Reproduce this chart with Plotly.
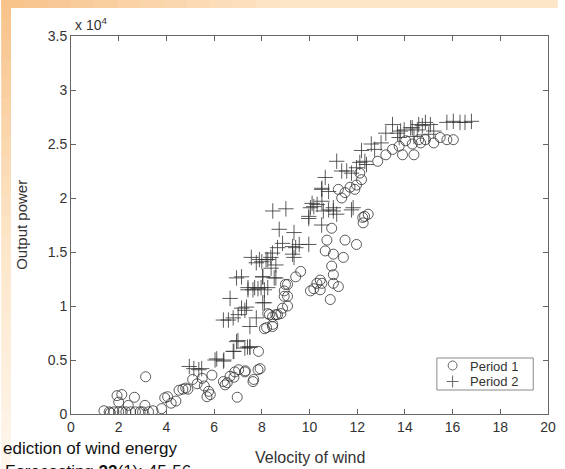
import plotly.graph_objects as go

# Period 1 (circles): wind velocity and output power (x 1e4)
p1_vel = [1.38, 1.6, 1.65, 1.8, 1.93, 2.0, 2.0, 2.13, 2.15, 2.3, 2.4, 2.5, 2.66, 2.7, 2.9, 3.0, 3.1, 3.13, 3.25, 3.44,
          3.8, 3.93, 4.05, 4.2, 4.4, 4.53, 4.69, 4.81, 4.9, 5.1, 5.29, 5.5, 5.59, 5.7, 5.77, 5.84, 5.91,
          6.39, 6.46, 6.55, 6.67, 6.83, 6.87, 6.97, 7.03, 7.29, 7.31, 7.63, 7.66, 7.84, 7.86, 7.93, 8.11, 8.2,
          8.25, 8.32, 8.45, 8.45, 8.46, 8.59, 8.66, 8.8, 8.87, 8.94, 8.94, 8.99, 9.08, 9.08, 9.08, 9.42, 9.63,
          10.04, 10.18, 10.31, 10.45, 10.45, 10.52, 10.66, 10.73, 10.87, 10.93, 10.93, 11.0, 11.0, 11.0, 11.21,
          11.42, 11.49, 11.97, 12.23, 12.31, 12.25, 11.21, 11.35, 11.49, 11.7, 11.9, 11.97, 12.11, 12.18, 12.46,
          12.86, 13.2, 13.48, 13.76, 13.9, 14.03, 14.31, 14.38, 14.58, 14.66, 14.86, 15.21, 15.48, 15.76, 16.03]
p1_pow = [0.03, 0.02, 0.01, 0.02, 0.17, 0.11, 0.02, 0.18, 0.02, 0.02, 0.08, 0.02, 0.155, 0.02, 0.02, 0.02, 0.08, 0.345, 0.02, 0.03,
          0.05, 0.15, 0.16, 0.1, 0.12, 0.22, 0.23, 0.24, 0.23, 0.32, 0.28, 0.33, 0.26, 0.16, 0.21, 0.18, 0.36,
          0.30, 0.27, 0.29, 0.35, 0.34, 0.39, 0.155, 0.41, 0.39, 0.40, 0.30, 0.32, 0.41, 0.58, 0.42, 0.79, 0.8,
          0.93, 0.92, 0.9, 0.81, 0.83, 0.92, 0.92, 0.93, 0.98, 1.09, 1.14, 1.2, 1.0, 1.09, 1.2, 1.27, 1.32,
          1.14, 1.16, 1.21, 1.15, 1.24, 1.21, 1.51, 1.61, 1.06, 1.37, 1.72, 1.29, 1.48, 1.21, 1.18,
          1.45, 1.61, 1.57, 1.82, 1.83, 1.77, 2.08, 2.0, 2.05, 2.1, 2.08, 2.12, 2.23, 2.17, 1.85,
          2.34, 2.4, 2.45, 2.48, 2.4, 2.53, 2.5, 2.4, 2.54, 2.51, 2.54, 2.51, 2.56, 2.54, 2.54]

# Period 2 (crosses)
p2_vel = [4.96, 5.15, 5.36, 5.48, 6.04, 6.11, 6.39, 6.41, 6.8, 6.83, 6.94, 7.0, 7.29, 7.4, 7.5, 7.5,
          6.39, 6.6, 6.67, 6.8, 7.01, 7.15, 7.29, 7.36, 7.42, 7.5, 7.63, 7.77, 7.84, 8.04, 8.11,
          6.94, 7.15, 7.42, 7.56, 7.7, 7.77, 7.9, 7.97, 8.0, 8.04, 8.04, 8.11, 8.18, 8.25, 8.25, 8.38, 8.39,
          8.45, 8.46, 8.52, 8.59, 8.59, 8.66, 8.73, 8.87, 9.01, 9.29, 9.29, 9.35, 9.35, 9.42, 9.57,
          9.97, 9.97, 9.97, 10.04, 10.11, 10.18, 10.32, 10.51, 10.51, 10.52, 10.52, 10.58, 10.66, 10.8, 10.8,
          11.0, 11.0, 11.14, 11.14, 11.35, 11.56, 11.76, 11.76, 11.83, 11.97, 12.11, 12.18, 12.32, 12.39,
          12.59, 12.73, 13.0, 13.2, 13.48, 13.69, 13.76, 13.82, 13.97, 14.24, 14.31, 14.38, 14.52, 14.58,
          14.73, 14.86, 15.0, 15.07, 15.21, 15.76, 16.03, 16.31, 16.52, 16.79]
p2_pow = [0.44, 0.42, 0.41, 0.42, 0.5, 0.51, 0.49, 0.5, 0.58, 0.58, 0.67, 0.68, 0.61, 0.62, 0.62, 0.81,
          0.87, 0.87, 1.07, 0.89, 0.92, 0.98, 0.96, 0.99, 1.15, 0.62, 1.15, 0.89, 1.16, 1.03, 1.15,
          1.26, 1.27, 1.17, 1.45, 1.17, 1.40, 1.43, 1.17, 1.41, 1.27, 1.27, 1.03, 1.43, 1.43, 1.17, 1.45, 1.35,
          1.49, 1.88, 1.26, 1.38, 1.26, 1.54, 1.71, 1.58, 1.9, 1.55, 1.48, 1.68, 1.45, 1.54, 1.57,
          1.57, 1.81, 1.83, 1.91, 1.95, 1.92, 1.94, 1.75, 2.08, 1.97, 2.09, 1.88, 2.19, 1.89, 2.06,
          1.88, 1.91, 1.85, 2.34, 2.25, 2.25, 1.89, 2.23, 1.91, 2.28, 2.33, 2.44, 2.34, 2.31,
          2.5, 2.45, 2.51, 2.6, 2.68, 2.6, 2.56, 2.62, 2.63, 2.65, 2.65, 2.57, 2.63, 2.68,
          2.67, 2.7, 2.59, 2.68, 2.62, 2.7, 2.71, 2.7, 2.7, 2.71]

series_names = ["Period 1", "Period 2"]
x_ticks = [0, 2, 4, 6, 8, 10, 12, 14, 16, 18, 20]
y_ticks = [0, 5000, 10000, 15000, 20000, 25000, 30000, 35000]
y_tick_labels = ["0", "0.5", "1", "1.5", "2", "2.5", "3", "3.5"]

W, H = 565, 469
L, R, T, B = 71, 9, 36, 55
PW, PH = W - L - R, H - T - B

def px(xp):
    return (xp - L) / PW

def py(yp):
    return (H - B - yp) / PH

mk_color = "rgba(50,50,50,0.8)"
fig = go.Figure()
fig.add_trace(go.Scatter(
    x=p1_vel, y=[v * 1e4 for v in p1_pow], mode="markers", name=series_names[0], showlegend=False,
    marker=dict(symbol="circle-open", size=10, color=mk_color, line=dict(width=1, color=mk_color)),
))
fig.add_trace(go.Scatter(
    x=p2_vel, y=[v * 1e4 for v in p2_pow], mode="markers", name=series_names[1], showlegend=False,
    marker=dict(symbol="cross-thin-open", size=11, color=mk_color, line=dict(width=1, color=mk_color)),
))

shapes = []
# orange gradient strips (top and left)
n = 24
def lerp(c1, c2, t):
    return "rgb(%d,%d,%d)" % tuple(int(a + (b - a) * t) for a, b in zip(c1, c2))
c_dark = (248, 196, 140)
c_light = (253, 230, 200)
c_end = (255, 246, 236)
for i in range(n):
    x0 = W * i / n
    x1 = W * (i + 1) / n
    shapes.append(dict(type="rect", xref="paper", yref="paper", layer="below",
                       x0=px(x0), x1=px(x1 + 1), y0=py(8), y1=py(0),
                       fillcolor=lerp(c_dark, c_light, min(1, i / (n * 0.5))), line=dict(width=0)))
for i in range(n):
    y0 = H * i / n
    y1 = H * (i + 1) / n
    t = i / (n - 1)
    col = lerp(c_dark, c_light, t / 0.5) if t < 0.5 else lerp(c_light, c_end, (t - 0.5) / 0.5)
    shapes.append(dict(type="rect", xref="paper", yref="paper", layer="below",
                       x0=px(0), x1=px(10), y0=py(y1 + 1), y1=py(y0),
                       fillcolor=col, line=dict(width=0)))

# legend box drawn as decoration (compact, MATLAB-like)
leg_col = "#666"
shapes.append(dict(type="rect", xref="paper", yref="paper", x0=px(443), x1=px(541),
                   y0=py(390), y1=py(358), line=dict(color="#888", width=1), fillcolor="white"))
shapes.append(dict(type="circle", xref="paper", yref="paper", x0=px(454.5), x1=px(463.5),
                   y0=py(370), y1=py(361), line=dict(color=leg_col, width=1)))
shapes.append(dict(type="line", xref="paper", yref="paper", x0=px(453), x1=px(465),
                   y0=py(381.5), y1=py(381.5), line=dict(color=leg_col, width=1)))
shapes.append(dict(type="line", xref="paper", yref="paper", x0=px(459), x1=px(459),
                   y0=py(387.5), y1=py(375.5), line=dict(color=leg_col, width=1)))

fig.update_layout(
    width=W, height=H,
    margin=dict(l=L, r=R, t=T, b=B),
    paper_bgcolor="white", plot_bgcolor="white",
    font=dict(family="Liberation Sans, Arial, sans-serif", size=13, color="#333"),
    showlegend=False,
    shapes=shapes,
    xaxis=dict(range=[0, 20], tickvals=x_ticks, ticks="inside", ticklen=5,
               mirror="ticks", showline=True, linecolor="#666", linewidth=1,
               showgrid=False, zeroline=False, tickcolor="#666",
               tickfont=dict(size=14, color="#333")),
    yaxis=dict(range=[0, 35000], tickvals=y_ticks, ticktext=y_tick_labels,
               ticks="inside", ticklen=5, mirror="ticks", showline=True,
               linecolor="#666", linewidth=1, showgrid=False, zeroline=False,
               tickcolor="#666", tickfont=dict(size=14, color="#333")),
    annotations=[
        dict(text="x 10<sup>4</sup>", x=px(73), y=py(35), xref="paper", yref="paper",
             xanchor="left", yanchor="bottom", showarrow=False, font=dict(size=14, color="#333")),
        dict(text="Velocity of wind", x=0.5, y=py(457), xref="paper", yref="paper",
             xanchor="center", yanchor="middle", showarrow=False, font=dict(size=16, color="#333")),
        dict(text="Output power", x=px(20), y=py(225), xref="paper", yref="paper",
             xanchor="center", yanchor="middle", textangle=-90, showarrow=False,
             font=dict(size=15, color="#333")),
        dict(text="ediction of wind energy", x=px(0), y=py(448), xref="paper", yref="paper",
             xanchor="left", yanchor="middle", showarrow=False, font=dict(size=17, color="#111")),
        dict(text="Forecasting <b>22</b>(1): 45-56", x=px(2), y=py(460), xref="paper", yref="paper",
             xanchor="left", yanchor="top", showarrow=False, font=dict(size=17, color="#111")),
        dict(text=series_names[0], x=px(475), y=py(366), xref="paper", yref="paper",
             xanchor="left", yanchor="middle", showarrow=False, font=dict(size=13, color="#333")),
        dict(text=series_names[1], x=px(475), y=py(381.5), xref="paper", yref="paper",
             xanchor="left", yanchor="middle", showarrow=False, font=dict(size=13, color="#333")),
    ],
)

fig.write_html("out.html", config={"displayModeBar": False},
               post_script="document.body.style.margin='0';document.body.style.overflow='hidden';")
